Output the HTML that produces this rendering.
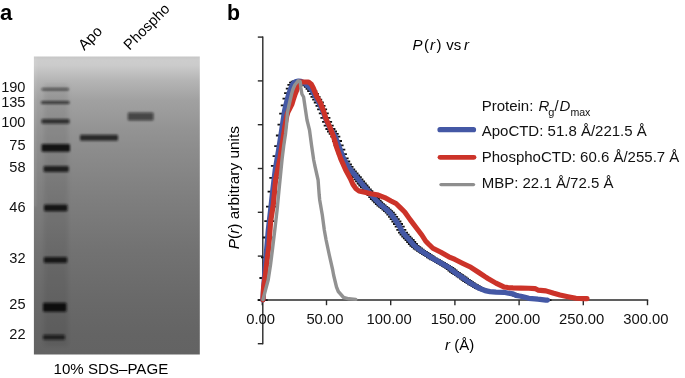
<!DOCTYPE html>
<html><head><meta charset="utf-8"><style>
html,body{margin:0;padding:0;background:#fff;}
body{width:685px;height:378px;overflow:hidden;}
svg{display:block;font-family:"Liberation Sans",sans-serif;will-change:transform;}
</style></head><body>
<svg width="685" height="378" viewBox="0 0 685 378">
<defs>
<linearGradient id="gel" x1="0" y1="56.5" x2="0" y2="354.5" gradientUnits="userSpaceOnUse">
<stop offset="0" stop-color="#c6c6c6"/>
<stop offset="0.012" stop-color="#cdcdcd"/>
<stop offset="0.03" stop-color="#cbcbcb"/>
<stop offset="0.079" stop-color="#b5b5b5"/>
<stop offset="0.146" stop-color="#a1a1a1"/>
<stop offset="0.247" stop-color="#939393"/>
<stop offset="0.314" stop-color="#8c8c8c"/>
<stop offset="0.431" stop-color="#828282"/>
<stop offset="0.482" stop-color="#7e7e7e"/>
<stop offset="0.65" stop-color="#727272"/>
<stop offset="0.817" stop-color="#696969"/>
<stop offset="0.935" stop-color="#646464"/>
<stop offset="1" stop-color="#636363"/>
</linearGradient>
<filter id="bl2" x="-50%" y="-10%" width="200%" height="120%"><feGaussianBlur stdDeviation="2"/></filter>
<filter id="bl" x="-20%" y="-100%" width="140%" height="300%"><feGaussianBlur stdDeviation="0.9 0.9"/></filter>
</defs>
<rect width="685" height="378" fill="#fff"/>
<!-- panel a -->
<text x="0" y="19.8" font-size="22" font-weight="bold">a</text>
<text x="227" y="19.8" font-size="21.3" font-weight="bold">b</text>
<rect x="33.9" y="56.5" width="165.9" height="298" fill="url(#gel)"/>
<rect x="44" y="84" width="24" height="262" fill="#000" fill-opacity="0.08" filter="url(#bl2)"/>
<g filter="url(#bl)">
<rect x="34.2" y="56.5" width="1.8" height="150" fill="#fff" fill-opacity="0.12"/>
<rect x="41.5" y="88.0" width="27.5" height="2.4" rx="1.2" fill="#111" fill-opacity="0.6"/>
<rect x="41" y="100.9" width="28.5" height="3.2" rx="1.2" fill="#111" fill-opacity="0.7"/>
<rect x="41.5" y="118.9" width="28.0" height="4.8" rx="1.2" fill="#111" fill-opacity="0.74"/>
<rect x="41.5" y="144.1" width="28.5" height="7.6" rx="1.2" fill="#111" fill-opacity="0.95"/>
<rect x="43.5" y="166.0" width="25.299999999999997" height="6" rx="1.2" fill="#111" fill-opacity="0.85"/>
<rect x="44" y="204.5" width="23.5" height="6.8" rx="1.2" fill="#111" fill-opacity="0.93"/>
<rect x="43.8" y="257.0" width="23.400000000000006" height="6" rx="1.2" fill="#111" fill-opacity="0.9"/>
<rect x="43" y="302.7" width="23.5" height="9" rx="1.2" fill="#111" fill-opacity="1.0"/>
<rect x="43" y="334.8" width="22" height="5" rx="1.2" fill="#111" fill-opacity="0.8"/>
<rect x="80" y="134.8" width="38" height="6" rx="1.2" fill="#111" fill-opacity="0.8"/>
<rect x="127.8" y="112.4" width="25.700000000000003" height="8" rx="1.2" fill="#111" fill-opacity="0.62"/>
</g>
<g font-size="14.6" fill="#111">
<text x="25.5" y="92.1" text-anchor="end">190</text>
<text x="25.5" y="107" text-anchor="end">135</text>
<text x="25.5" y="127.1" text-anchor="end">100</text>
<text x="25.5" y="150.3" text-anchor="end">75</text>
<text x="25.5" y="172" text-anchor="end">58</text>
<text x="25.5" y="212.1" text-anchor="end">46</text>
<text x="25.5" y="263.1" text-anchor="end">32</text>
<text x="25.5" y="308.9" text-anchor="end">25</text>
<text x="25.5" y="339.3" text-anchor="end">22</text>
</g>
<text font-size="15" transform="translate(84.3,51) rotate(-45)">Apo</text>
<text font-size="14.7" transform="translate(129.6,50.7) rotate(-45)">Phospho</text>
<text x="110.9" y="374" font-size="15.1" text-anchor="middle">10% SDS–PAGE</text>
<!-- panel b -->
<g stroke="#2a2a2a" stroke-width="1.4" fill="none">
<line x1="262.8" y1="36.4" x2="262.8" y2="344.3"/>
<line x1="263" y1="300" x2="648.2" y2="300"/>
<line x1="257.8" y1="37.1" x2="263" y2="37.1"/>
<line x1="257.8" y1="80.9" x2="263" y2="80.9"/>
<line x1="257.8" y1="124.7" x2="263" y2="124.7"/>
<line x1="257.8" y1="168.5" x2="263" y2="168.5"/>
<line x1="257.8" y1="212.3" x2="263" y2="212.3"/>
<line x1="257.8" y1="256.1" x2="263" y2="256.1"/>
<line x1="257.8" y1="299.9" x2="263" y2="299.9"/>
<line x1="257.8" y1="343.7" x2="263" y2="343.7"/>
<line x1="262.3" y1="300" x2="262.3" y2="305.2"/>
<line x1="326.5" y1="300" x2="326.5" y2="305.2"/>
<line x1="390.7" y1="300" x2="390.7" y2="305.2"/>
<line x1="454.9" y1="300" x2="454.9" y2="305.2"/>
<line x1="519.1" y1="300" x2="519.1" y2="305.2"/>
<line x1="583.3" y1="300" x2="583.3" y2="305.2"/>
<line x1="647.5" y1="300" x2="647.5" y2="305.2"/>
</g>
<g font-size="14.8" fill="#111">
<text x="260.7" y="323.5" text-anchor="middle">0.00</text>
<text x="324.9" y="323.5" text-anchor="middle">50.00</text>
<text x="389.1" y="323.5" text-anchor="middle">100.00</text>
<text x="453.3" y="323.5" text-anchor="middle">150.00</text>
<text x="517.5" y="323.5" text-anchor="middle">200.00</text>
<text x="581.7" y="323.5" text-anchor="middle">250.00</text>
<text x="645.9" y="323.5" text-anchor="middle">300.00</text>
</g>
<text x="445" y="350" font-size="15"><tspan font-style="italic">r</tspan> (Å)</text>
<text font-size="15.4" transform="translate(239.2,249.2) rotate(-90)"><tspan font-style="italic">P</tspan>(<tspan font-style="italic">r</tspan>) arbitrary units</text>
<text y="49.5" font-size="15"><tspan x="412.5" font-style="italic">P</tspan><tspan x="424">(</tspan><tspan x="430" font-style="italic">r</tspan><tspan x="436.5">)</tspan><tspan x="446.2">vs</tspan><tspan x="464.1" font-style="italic">r</tspan></text>
<!-- curves -->
<path d="M257.7 300.2h10M259.4 278.0h10M261.0 257.3h10M262.7 237.5h10M264.3 221.2h10M266.0 206.7h10M267.6 191.7h10M269.3 177.8h10M270.9 165.8h10M272.6 156.1h10M274.2 146.1h10M275.9 135.5h10M277.5 124.6h10M279.2 113.6h10M280.8 105.4h10M282.5 98.7h10M284.1 93.1h10M285.8 88.6h10M287.4 84.9h10M289.1 82.7h10M290.7 81.7h10M292.4 81.2h10M294.0 81.1h10M295.7 81.3h10M297.3 82.0h10M299.0 82.8h10M300.6 83.9h10M302.3 85.4h10M303.9 86.9h10M305.6 88.9h10M307.2 91.0h10M308.9 93.9h10M310.5 96.9h10M312.2 99.7h10M313.8 102.5h10M315.5 105.9h10M317.1 109.3h10M318.8 113.4h10M320.4 117.9h10M322.1 121.9h10M323.7 125.6h10M325.4 129.0h10M327.0 131.5h10M328.7 133.9h10M330.3 136.6h10M332.0 141.0h10M333.6 145.4h10M335.3 149.7h10M336.9 154.1h10M338.6 158.3h10M340.2 161.5h10M341.9 164.5h10M343.5 166.9h10M345.2 169.4h10M346.8 171.4h10M348.5 173.4h10M350.1 175.3h10M351.8 177.2h10M353.4 179.3h10M355.1 181.4h10M356.7 183.5h10M358.4 185.5h10M360.0 187.4h10M361.7 189.3h10M363.3 191.2h10M365.0 193.2h10M366.6 195.2h10M368.3 197.2h10M369.9 199.0h10M371.6 200.7h10M373.2 202.4h10M374.9 204.2h10M376.5 205.5h10M378.2 206.8h10M379.8 208.1h10M381.5 209.6h10M383.1 211.2h10M384.8 212.7h10M386.4 214.6h10M388.1 216.9h10M389.7 219.1h10M391.4 221.5h10M393.0 224.0h10M394.7 226.7h10M396.3 229.8h10M398.0 232.6h10M399.6 234.7h10M401.3 236.7h10M402.9 238.4h10M404.6 240.0h10M406.2 242.0h10M407.9 244.0h10M409.5 245.8h10M411.2 247.2h10M412.8 248.5h10M414.5 249.7h10M416.1 250.8h10M417.8 251.9h10M419.4 253.0h10M421.1 254.0h10M422.7 255.1h10M424.4 256.2h10M426.0 257.3h10M427.7 258.3h10M429.3 259.3h10M431.0 260.2h10M432.6 261.1h10M434.3 262.1h10M435.9 263.0h10M437.6 263.9h10M439.2 264.9h10M440.9 265.8h10M442.5 266.8h10M444.2 267.8h10M445.8 269.1h10M447.5 270.5h10M449.1 271.8h10M450.8 273.0h10M452.4 274.1h10M454.1 275.2h10M455.7 276.3h10M457.4 277.4h10M459.0 278.6h10M460.7 279.8h10M462.3 281.0h10M464.0 282.1h10M465.6 283.2h10M467.3 284.3h10M468.9 285.2h10M470.6 286.2h10M472.2 287.1h10M473.9 288.1h10M475.5 288.7h10M477.2 289.4h10M478.8 290.1h10M480.5 290.7h10M482.1 291.0h10M483.8 291.4h10M485.4 291.6h10M487.1 291.8h10M488.7 291.9h10M490.4 292.0h10M492.0 292.1h10M493.7 292.2h10M495.3 292.2h10M497.0 292.2h10M498.6 292.3h10M500.3 292.5h10M501.9 292.9h10M503.6 293.2h10M505.2 293.4h10M506.9 293.7h10M508.5 294.1h10M510.2 295.0h10M511.8 295.6h10M513.5 295.9h10M515.1 296.2h10M516.8 296.5h10M518.4 296.9h10M520.1 297.3h10M521.7 297.7h10M523.4 298.2h10M525.0 298.4h10M526.7 298.5h10M528.3 298.7h10M530.0 298.8h10M531.6 299.0h10M533.3 299.2h10M534.9 299.4h10M536.6 299.6h10M538.2 299.8h10M539.9 300.0h10M541.5 300.1h10" fill="none" stroke="#111" stroke-width="1.8"/>
<polyline points="262.8,300.0 264.5,276.0 266.6,250.0 268.3,230.0 270.6,210.0 272.8,190.0 275.2,170.0 278.6,150.0 281.1,134.0 283.2,120.0 284.7,110.0 287.1,100.0 288.8,94.0 290.2,90.0 291.8,86.0 293.5,83.0 296.0,81.5 298.5,81.0 301.0,81.4 305.0,83.3 308.8,86.8 311.8,90.3 315.3,96.5 318.8,102.5 322.1,109.3 323.6,113.0 326.2,120.0 330.0,128.5 335.1,136.0 339.6,148.0 343.4,158.0 346.5,164.0 350.6,170.0 357.4,178.0 362.5,184.5 367.9,190.7 373.5,197.5 380.0,204.3 385.3,208.5 390.6,213.5 395.0,219.5 399.0,225.5 402.5,232.0 405.9,236.3 410.0,240.5 413.9,245.3 418.0,248.7 421.8,251.3 427.0,254.6 432.9,258.5 440.9,263.0 448.8,267.5 455.0,272.5 462.9,277.8 468.0,281.5 472.3,284.3 478.7,288.0 485.0,290.6 490.0,291.6 496.0,292.1 504.0,292.3 508.6,293.2 512.9,293.8 516.0,295.5 520.9,296.3 524.0,297.0 528.8,298.3 535.0,298.8 537.9,299.2 545.9,300.1 547.5,300.2" fill="none" stroke="#4458a5" stroke-width="5.2" stroke-linejoin="round" stroke-linecap="round"/>
<polyline points="263.0,300.0 263.5,288.0 265.2,276.0 268.9,246.0 270.6,222.0 273.4,204.0 274.7,190.0 275.6,180.0 280.0,158.0 281.9,146.0 283.8,134.0 284.8,126.6 286.8,116.0 287.6,113.0 289.0,110.0 290.5,107.0 292.0,104.0 293.2,100.0 295.2,94.0 296.8,90.0 297.8,87.0 298.8,84.0 300.2,82.0 308.5,82.0 311.3,84.3 313.3,88.0 314.5,91.0 316.8,96.5 320.5,103.0 323.5,111.0 326.5,120.0 330.0,127.5 333.3,136.0 336.8,148.0 340.8,159.0 345.7,170.0 350.3,178.5 353.0,184.5 356.0,188.8 359.0,191.0 364.7,192.3 371.0,193.7 378.3,195.1 384.7,197.6 391.0,201.0 396.0,203.5 400.0,207.4 404.7,212.0 410.3,219.9 417.4,229.3 421.8,235.0 425.6,241.0 428.5,244.0 432.9,248.3 440.9,252.3 448.8,256.8 455.0,259.4 462.9,263.4 470.9,267.3 478.8,272.5 485.0,276.7 487.9,278.5 495.9,283.1 503.8,286.9 508.0,287.6 512.9,287.9 520.9,288.1 528.8,288.3 535.0,288.6 537.9,290.1 545.9,290.9 553.8,293.3 560.0,295.0 567.9,296.7 575.9,298.3 583.8,298.6 587.0,298.6" fill="none" stroke="#cc3329" stroke-width="5.1" stroke-linejoin="round" stroke-linecap="round"/>
<polyline points="263.0,299.5 265.5,290.0 268.2,280.0 270.5,265.0 272.4,250.0 274.8,230.0 277.1,210.0 279.0,190.0 281.0,170.0 282.2,158.0 283.7,146.0 285.5,134.0 286.6,124.0 287.4,113.0 288.6,107.0 290.2,100.0 291.6,94.0 292.9,89.5 294.8,85.0 298.2,80.8 300.2,81.5 300.9,88.0 301.9,94.0 303.6,97.0 305.2,108.0 307.0,120.0 309.5,130.0 311.5,145.0 313.7,160.0 314.7,165.0 318.1,180.0 319.2,195.0 319.7,200.0 322.3,215.0 324.3,230.0 326.1,240.0 329.3,255.0 332.7,270.0 333.6,275.0 336.5,287.0 338.3,291.5 343.6,297.5 348.9,298.8 355.8,299.4" fill="none" stroke="#919191" stroke-width="3.4" stroke-linejoin="round" stroke-linecap="round"/>
<!-- legend -->
<g font-size="15" fill="#111">
<text x="481.7" y="111">Protein: <tspan x="538.6" font-style="italic">R</tspan><tspan x="548.3" font-size="11" dy="4.5">g</tspan><tspan x="554.6" dy="-4.5">/</tspan><tspan x="559.4" font-style="italic">D</tspan><tspan x="570.4" font-size="10.6" dy="4.5">max</tspan></text>
<text x="481.7" y="135.8">ApoCTD: 51.8 Å/221.5 Å</text>
<text x="481.7" y="162">PhosphoCTD: 60.6 Å/255.7 Å</text>
<text x="481.7" y="188.4">MBP: 22.1 Å/72.5 Å</text>
</g>
<line x1="440" y1="129.7" x2="473.5" y2="129.7" stroke="#4458a5" stroke-width="5.2" stroke-linecap="round"/>
<line x1="440" y1="157.3" x2="474" y2="157.3" stroke="#cc3329" stroke-width="4.8" stroke-linecap="round"/>
<line x1="441" y1="184.6" x2="473.5" y2="184.6" stroke="#8e8e8e" stroke-width="3.4" stroke-linecap="round"/>
</svg>
</body></html>
